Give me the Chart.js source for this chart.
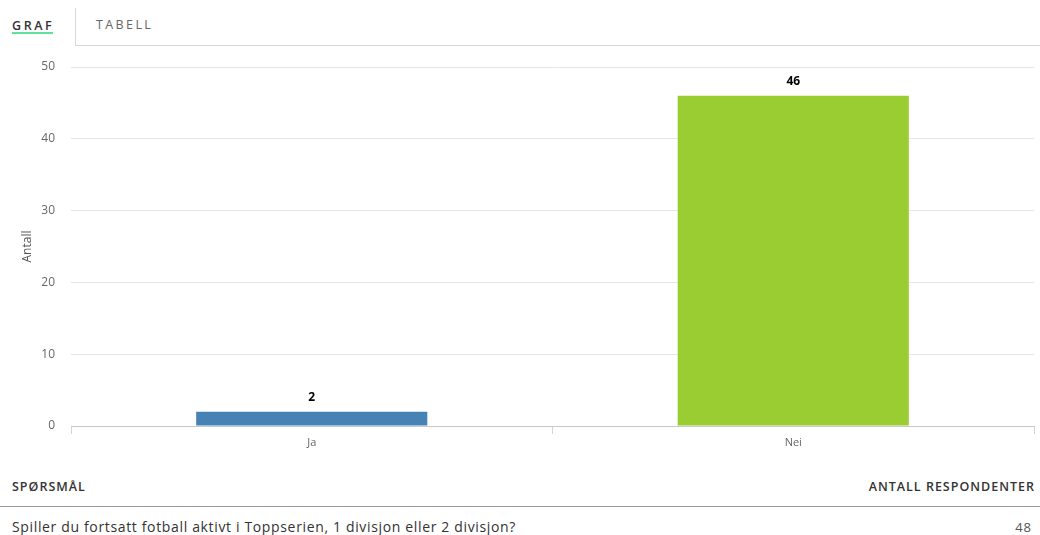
<!DOCTYPE html>
<html>
<head>
<meta charset="utf-8">
<script src="https://cdn.jsdelivr.net/npm/chart.js@4"></script>
<style>
  body { margin: 0; width: 1040px; height: 535px; background: #fff; position: relative; overflow: hidden; font-family: "Open Sans", sans-serif; }
  .tabs { position: absolute; left: 0; top: 0; width: 1040px; height: 46px; }
  .tab-graf { position: absolute; left: 12px; top: 17px; font-size: 12.5px; font-weight: 600; letter-spacing: 2.6px; color: #333; }
  .tab-graf-line { position: absolute; left: 12px; top: 32px; width: 41px; height: 2px; background: #5ee39a; }
  .tab-sep { position: absolute; left: 75px; top: 8px; width: 1px; height: 38px; background: #d8d8d8; }
  .tab-base { position: absolute; left: 75px; top: 45px; width: 965px; height: 1px; background: #d8d8d8; }
  .tab-tabell { position: absolute; left: 96px; top: 16px; font-size: 12.5px; letter-spacing: 2.4px; color: #666; }
  #wrap { position: absolute; left: 0; top: 50px; width: 1040px; height: 410px; }
  .head { position: absolute; top: 478px; font-size: 12.5px; font-weight: 600; color: #333; letter-spacing: 1px; }
  .rule { position: absolute; left: 0; top: 506px; width: 1040px; height: 1px; background: #999; }
  .question { position: absolute; left: 12px; top: 517px; font-size: 14px; color: #333; letter-spacing: 0.65px; }
  .count { position: absolute; right: 8px; top: 518px; font-size: 13px; color: #555; letter-spacing: 1px; }
</style>
</head>
<body>
<div class="tabs">
  <div class="tab-graf">GRAF</div>
  <div class="tab-graf-line"></div>
  <div class="tab-sep"></div>
  <div class="tab-base"></div>
  <div class="tab-tabell">TABELL</div>
</div>
<div id="wrap"><canvas id="answerChart"></canvas></div>
<div class="head" style="left:12px">SPØRSMÅL</div>
<div class="head" style="right:5px">ANTALL RESPONDENTER</div>
<div class="rule"></div>
<div class="question">Spiller du fortsatt fotball aktivt i Toppserien, 1 divisjon eller 2 divisjon?</div>
<div class="count">48</div>

<script>
//-----------------------------------------------------------------------------
// Survey answers: Ja / Nei counts, shown as a bar chart.
//-----------------------------------------------------------------------------

const categories = ["Ja", "Nei"];
const answerCounts = [2, 46];
const barColors = ["#4682b4", "#9acd32"];
const yTicks = [0, 10, 20, 30, 40, 50];

//-----------------------------------------------------------------------------
// Small plugin that writes each value in bold above its bar.
//-----------------------------------------------------------------------------

const valueLabels = {
  id: "valueLabels",
  afterDatasetsDraw(chart) {
    const ctx = chart.ctx;
    const meta = chart.getDatasetMeta(0);
    ctx.save();
    ctx.font = "bold 12px 'Open Sans', sans-serif";
    ctx.fillStyle = "#000";
    ctx.textAlign = "center";
    ctx.textBaseline = "bottom";
    meta.data.forEach((bar, i) => {
      ctx.fillText(answerCounts[i], bar.x, bar.y - 8);
    });
    ctx.restore();
  },
};

const ctx = document.getElementById("answerChart").getContext("2d");

new Chart(ctx, {
  type: "bar",
  data: {
    labels: categories,
    datasets: [
      {
        data: answerCounts,
        backgroundColor: barColors,
        categoryPercentage: 1,
        barPercentage: 0.48,
      },
    ],
  },
  options: {
    responsive: true,
    maintainAspectRatio: false,
    animation: false,
    layout: { padding: { left: 20, right: 6, top: 17, bottom: 0 } },
    plugins: {
      legend: { display: false },
      tooltip: { enabled: false },
    },
    scales: {
      x: {
        offset: true,
        grid: {
          offset: true,
          drawOnChartArea: false,
          drawTicks: true,
          tickLength: 8,
          color: "#ccd6eb",
        },
        border: { color: "#c8c8c8" },
        ticks: { color: "#666", font: { family: "'Open Sans', sans-serif", size: 11 }, padding: 2 },
        afterFit: (s) => { s.height = 34; s.paddingLeft = 0; s.paddingRight = 0; },
      },
      y: {
        min: 0,
        max: 50,
        afterBuildTicks: (s) => { s.ticks = yTicks.map((v) => ({ value: v })); },
        grid: { color: "#e6e6e6", drawTicks: false },
        border: { display: false },
        ticks: { color: "#666", font: { family: "'Open Sans', sans-serif", size: 12 }, padding: 16 },
        title: {
          display: true,
          text: "Antall",
          color: "#555",
          font: { family: "'Open Sans', sans-serif", size: 12 },
          padding: { top: 0, bottom: 0 },
        },
        afterFit: (s) => { s.width = 51; s.paddingTop = 0; s.paddingBottom = 0; },
      },
    },
  },
  plugins: [valueLabels],
});
</script>
</body>
</html>
